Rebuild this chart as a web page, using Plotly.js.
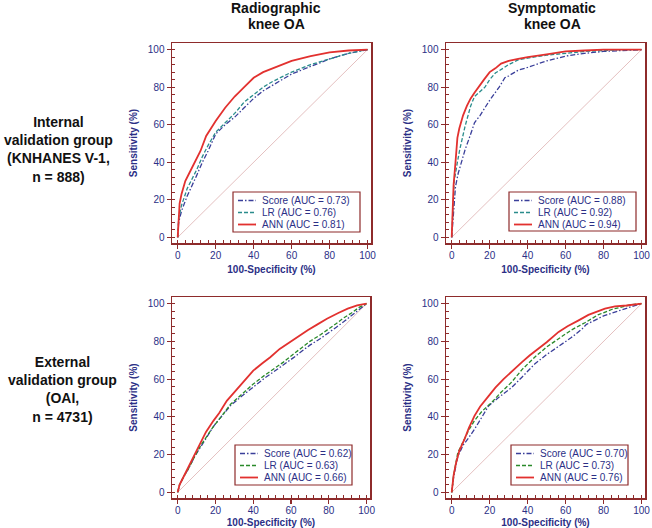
<!DOCTYPE html>
<html>
<head>
<meta charset="utf-8">
<script src="https://cdn.plot.ly/plotly-3.0.1.min.js"></script>
<style>html,body{margin:0;padding:0;background:#fff;overflow:hidden}#wrap{position:relative;width:652px;height:528px}#chart{width:652px;height:528px}
.edge-tick{position:absolute;z-index:20;font:10px Arial,"Liberation Sans",sans-serif;color:#2b2f86;transform:translate(-50%,-50%);white-space:nowrap;pointer-events:none;line-height:1}</style>
</head>
<body>
<div id="wrap"><div id="chart"></div></div>
<script>
// ---------- data ----------
const SERIES_NAMES = ['Score', 'LR', 'ANN'];
const COLUMN_TITLES = [['Radiographic', 'knee OA'], ['Symptomatic', 'knee OA']];
const ROW_TITLES = ['Internal<br>validation group<br>(KNHANES V-1,<br>n = 888)',
                    'External<br>validation group<br>(OAI,<br>n = 4731)'];
const TICK_VALUES = [0, 20, 40, 60, 80, 100];
const DIAG = [0, 100];

// Top-left: Radiographic, internal
const tlAuc = [0.73, 0.76, 0.81];
const tlScoreX = [0,0.5,2,5,10,13,16,20,25,30,35,40,45,50,60,70,80,90,100];
const tlScoreY = [0,8,14,22,33,40,46,55,60,64,69,74,78,81,87,91,95,98,100];
const tlLrX = [0,0.5,2,5,10,13,16,20,25,30,35,40,45,50,60,70,80,90,100];
const tlLrY = [0,10,17,26,36,43,49,56,61,66,72,76,80,83,88,92,95,98,100];
const tlAnnX = [0,1,2,4,6,8,10,12,15,18,20,25,30,35,40,45,50,60,70,80,90,100];
const tlAnnY = [0,18,23,30,34,38,42,46,54,59,62,69,75,80,85,88,90,94,96.5,98.5,99.5,100];

// Top-right: Symptomatic, internal
const trAuc = [0.88, 0.92, 0.94];
const trScoreX = [0,0.5,1.3,2,3.4,5,7,10,12,15,20,25,28,30,35,40,50,60,70,80,90,100];
const trScoreY = [0,8,18,27,34,40,46.5,55,61,65,73,80,85,86,89,90.5,94,96.5,98,99,99.5,100];
const trLrX = [0,0.5,1.3,3,4.3,7,10,12,15,17.5,20,23,27,30,35,40,50,60,70,80,90,100];
const trLrY = [0,12,30,40,47,59,70,75,78,80,84,87.5,90,92,94.5,95.5,97,98,99,99.5,100,100];
const trAnnX = [0,0.5,1,2,3,4,6,8,10,12,14,17,20,23,26,30,35,40,50,60,70,80,90,100];
const trAnnY = [0,15,28,40,53,58,65,70,74,77,80,84,88,90,92.5,94,95,96,97.5,99,99.5,100,100,100];

// Bottom-left: Radiographic, external
const blAuc = [0.62, 0.63, 0.66];
const blScoreX = [0,1,3,6,9,12,15,19,23,28,34,40,46,51,56,61.5,66,70,75.6,80,84,88,92,96,100];
const blScoreY = [0,4,8,13,19,24,29,35,40,46,51,56,60.5,64,67.5,71.5,75,78,81.5,84.5,87.5,90.5,93.5,97,100];
const blLrX = [0,1,3,6,9,12,15,19,23,28,34,40,46,51,56,61.5,66,70,75.6,80,84,88,92,96,100];
const blLrY = [0,4,8,13,19,24.5,29,35,40,46.7,52,57.4,62,65.4,69,73.4,77,80,83.5,86.5,89.5,92.5,95,98,100];
const blAnnX = [0,1,3,5,8,10,12,15,19,22,26,30,33,37,40,45,49,54,58,63,69,74,79,85,90,95,100];
const blAnnY = [0,4,8,12,18,22,26,32,38,42,48.5,53,56.5,61,64.5,68.5,71.6,76,78.7,82,86,89,92,95,97.3,99,100];

// Bottom-right: Symptomatic, external
const brAuc = [0.70, 0.73, 0.76];
const brScoreX = [0,1,3.2,6,9,12,16,19.4,25,31.5,37,43.7,50,56.3,63,68.6,71,80,90,95,100];
const brScoreY = [0,8,19,25,29,33.4,40,45.8,50.5,55.5,61,68,73,77.5,82,86.5,89,93.5,97,98.5,100];
const brLrX = [0,1,3.2,6,9,12,16,21,26,31.5,37,43.7,50,56.3,63,70.4,77,84.5,90,95,100];
const brLrY = [0,9,21,27,33,38,43,47.6,53,58.3,65,71.6,77,81.4,86,90,94,97,98.5,99.5,100];
const brAnnX = [0,1,2.3,4,6.7,9,12,15,19.4,23,27.3,32,37,41,45.8,50,56.3,61,66.6,72,80.7,86,92,96,100];
const brAnnY = [0,9,15.6,22,28,34,40.5,45.5,51,55.5,60,64.5,69,72.5,76,79.5,85,88,91,94,97.3,98.5,99,99.7,100];

// ---------- styling ----------
const W = 652, H = 528;
const FONT = 'Arial, "Liberation Sans", sans-serif';
const NAVY = '#2b2f86';
const FRAME = '#8e2b2b';
const DIAG_COLOR = '#ddb0b0';
const SCORE_COLOR = '#3a3f9a';
const LR_TEAL = '#2a8c8c';
const LR_GREEN = '#2a8a2a';
const ANN_COLOR = '#e2312f';
const DASHES = ['5px,2px,1.5px,2px', '4px,2px', 'solid'];
const WIDTHS = [1.3, 1.3, 1.8];

const px = v => v / W;
const py = v => 1 - v / H;

// panel frames in pixels: [left, right, top, bottom]
const panels = [
  {ax: '', frame: [172, 371, 43, 243], auc: tlAuc, lrColor: LR_TEAL, edgeLabel: false,
   xs: [tlScoreX, tlLrX, tlAnnX], ys: [tlScoreY, tlLrY, tlAnnY], leg: [233, 360, 192, 232]},
  {ax: '2', frame: [446, 645, 43, 243], auc: trAuc, lrColor: LR_TEAL, edgeLabel: true,
   xs: [trScoreX, trLrX, trAnnX], ys: [trScoreY, trLrY, trAnnY], leg: [509, 636, 192, 231]},
  {ax: '3', frame: [172, 370, 297, 498], auc: blAuc, lrColor: LR_GREEN, edgeLabel: false,
   xs: [blScoreX, blLrX, blAnnX], ys: [blScoreY, blLrY, blAnnY], leg: [235, 352, 445, 485]},
  {ax: '4', frame: [446, 645, 297, 498], auc: brAuc, lrColor: LR_GREEN, edgeLabel: true,
   xs: [brScoreX, brLrX, brAnnX], ys: [brScoreY, brLrY, brAnnY], leg: [511, 628, 445, 485]}
];

const traces = [];
const shapes = [];
const annotations = [];
const layout = {
  width: W, height: H,
  margin: {l: 0, r: 0, t: 0, b: 0},
  paper_bgcolor: '#fff', plot_bgcolor: '#fff',
  showlegend: false,
  font: {family: FONT, color: NAVY}
};

panels.forEach(p => {
  const xa = 'x' + p.ax, ya = 'y' + p.ax;
  const colors = [SCORE_COLOR, p.lrColor, ANN_COLOR];
  traces.push({x: DIAG, y: DIAG, xaxis: xa, yaxis: ya, mode: 'lines',
    line: {color: DIAG_COLOR, width: 0.8}, hoverinfo: 'skip'});
  SERIES_NAMES.forEach((name, i) => {
    traces.push({x: p.xs[i], y: p.ys[i], xaxis: xa, yaxis: ya, mode: 'lines',
      name: name, line: {color: colors[i], width: WIDTHS[i], dash: DASHES[i], shape: 'linear'}});
  });
  const axBase = {
    showline: true, mirror: true, linecolor: FRAME, linewidth: 1.5,
    ticks: 'outside', ticklen: 4, tickcolor: FRAME, tickwidth: 1.2,
    tickmode: 'array', tickvals: TICK_VALUES,
    tickfont: {family: FONT, size: 10, color: NAVY},
    ticklabeloverflow: 'allow',
    showgrid: false, zeroline: false, fixedrange: true,
    minor: {ticks: 'inside', ticklen: 3, tickcolor: FRAME, tickwidth: 1, tickmode: 'linear', tick0: 0, dtick: 4, showgrid: false}
  };
  const [l, r, t, b] = p.frame;
  const lastTick = TICK_VALUES[TICK_VALUES.length - 1];
  layout['xaxis' + p.ax] = Object.assign({}, axBase, {
    domain: [px(l), px(r)], range: [-3, 101.8], anchor: ya,
    ticktext: TICK_VALUES.map(v => (p.edgeLabel && v === lastTick) ? '' : String(v)),
    ticklabelstandoff: -2,
    title: {text: '<b>100-Specificity (%)</b>', font: {family: FONT, size: 10, color: NAVY}, standoff: 6}
  });
  layout['yaxis' + p.ax] = Object.assign({}, axBase, {
    domain: [py(b), py(t)], range: [-3, 103.5], anchor: xa,
    title: {text: '<b>Sensitivity (%)</b>', font: {family: FONT, size: 10, color: NAVY}, standoff: 8}
  });
  // custom legend box
  const [ll, lr, lt, lb] = p.leg;
  shapes.push({type: 'rect', xref: 'paper', yref: 'paper', x0: px(ll), x1: px(lr), y0: py(lb), y1: py(lt),
    line: {color: FRAME, width: 1.2}, fillcolor: '#fff', layer: 'above'});
  SERIES_NAMES.forEach((name, i) => {
    const rowY = lt + 8.5 + i * 12;
    shapes.push({type: 'line', xref: 'paper', yref: 'paper', x0: px(ll + 5), x1: px(ll + 23), y0: py(rowY), y1: py(rowY),
      line: {color: colors[i], width: WIDTHS[i], dash: DASHES[i]}, layer: 'above'});
    annotations.push({xref: 'paper', yref: 'paper', x: px(ll + 27), y: py(rowY), xanchor: 'left', yanchor: 'middle',
      text: name + ' (AUC = ' + p.auc[i].toFixed(2) + ')', showarrow: false,
      font: {family: FONT, size: 10, color: NAVY}});
  });
});

// column titles (two lines each)
[[276, COLUMN_TITLES[0]], [552, COLUMN_TITLES[1]]].forEach(([cx, lines]) => {
  lines.forEach((txt, k) => {
    annotations.push({xref: 'paper', yref: 'paper', x: px(cx), y: py(8 + k * 16), xanchor: 'center', yanchor: 'middle',
      text: '<b>' + txt + '</b>', showarrow: false, font: {family: FONT, size: 14, color: '#111'}});
  });
});
// row titles
[[58, 149, ROW_TITLES[0]], [62, 389, ROW_TITLES[1]]].forEach(([cx, cy, txt]) => {
  annotations.push({xref: 'paper', yref: 'paper', x: px(cx), y: py(cy), xanchor: 'center', yanchor: 'middle',
    text: '<b>' + txt + '</b>', showarrow: false, font: {family: FONT, size: 14, color: '#111'}});
});

layout.shapes = shapes;
layout.annotations = annotations;

Plotly.newPlot('chart', traces, layout, {staticPlot: true, displayModeBar: false}).then(gd => {
  // the right-hand panels' last x tick label is placed with the axis' own scale
  const wrap = document.getElementById('wrap');
  const lastTick = TICK_VALUES[TICK_VALUES.length - 1];
  panels.filter(p => p.edgeLabel).forEach(p => {
    const xa = gd._fullLayout['xaxis' + p.ax];
    const ya = gd._fullLayout['yaxis' + p.ax];
    const d = document.createElement('div');
    d.className = 'edge-tick';
    d.textContent = String(lastTick);
    d.style.left = (xa._offset + xa.l2p(lastTick)) + 'px';
    d.style.top = (ya._offset + ya._length + 13) + 'px';
    wrap.appendChild(d);
  });
});
</script>
</body>
</html>
